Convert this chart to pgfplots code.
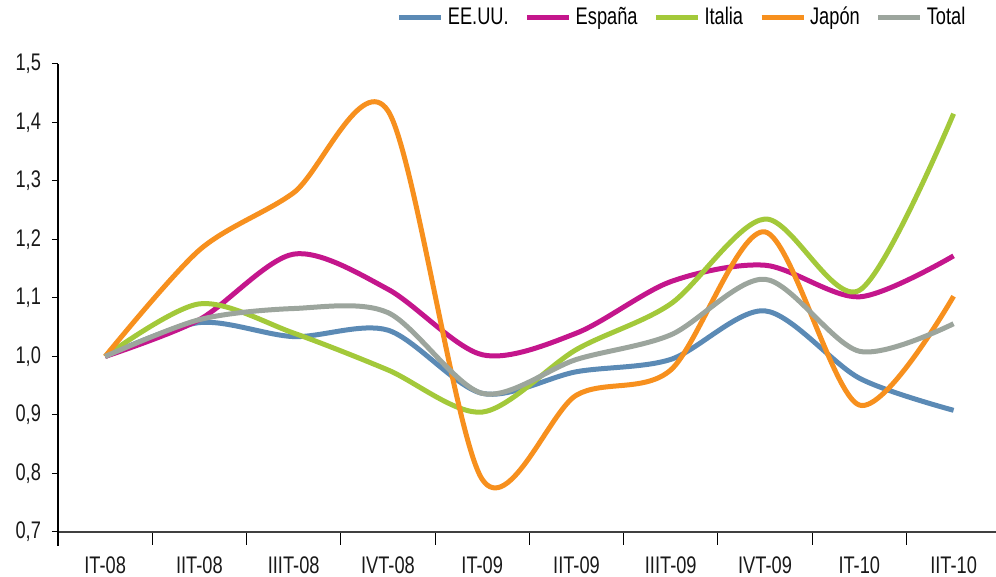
\documentclass[border=0pt]{standalone}
\usepackage{fontspec}
\setmainfont{Liberation Sans}[FakeStretch=0.76]
\usepackage{pgfplots}
\pgfplotsset{compat=1.18}
\definecolor{cblue}{HTML}{5B8AB5}
\definecolor{cmag}{HTML}{C4168C}
\definecolor{cgreen}{HTML}{A3C93A}
\definecolor{corange}{HTML}{F7901E}
\definecolor{cgray}{HTML}{9CA59D}
\begin{document}
\begin{tikzpicture}
\path[use as bounding box] (-29pt,-22.5pt) rectangle (469pt,266pt);
\begin{axis}[
  scale only axis, width=469pt, height=234pt,
  xmin=-0.5, xmax=9.45, ymin=0.7, ymax=1.5,
  axis lines=left, axis line style={line width=0.6pt,-},
  x axis line style={draw=black!75},
  xtick={0,...,9},
  xticklabels={IT-08,IIT-08,IIIT-08,IVT-08,IT-09,IIT-09,IIIT-09,IVT-09,IT-10,IIT-10},
  minor xtick={0.5,1.5,...,8.5},
  ytick={0.7,0.8,...,1.5},
  tick align=outside,
  x tick style={draw=none},
  minor x tick style={draw=black, line width=0.5pt},
  minor tick length=6.5pt,
  y tick style={draw=black, line width=0.5pt},
  major tick length=3pt,
  xticklabel style={yshift=-6pt},
  yticklabel style={xshift=-2pt, /pgf/number format/.cd, use comma, fixed, fixed zerofill, precision=1},
  /pgf/number format/assume math mode=true,
  tick label style={font=\fontsize{12}{14}\selectfont, text=black!90},
  legend columns=5,
  legend style={at={(0.972,1)}, anchor=south east, yshift=16pt, draw=none, inner sep=0pt,
    font=\fontsize{12}{14}\selectfont,
    /tikz/every even column/.append style={column sep=6pt}},
  legend image code/.code={\draw[#1,line width=2.5pt] (0pt,0pt) -- (21pt,0pt);},
  every axis plot/.append style={line width=2.5pt, smooth, tension=0.5},
  clip=false,
]
\addplot[cblue] coordinates {(0,1.0) (1,1.058) (2,1.034) (3,1.045) (4,0.937) (5,0.974) (6,0.995) (7,1.078) (8,0.963) (9,0.908)};
\addplot[cmag] coordinates {(0,1.0) (1,1.063) (2,1.175) (3,1.115) (4,1.003) (5,1.040) (6,1.128) (7,1.156) (8,1.102) (9,1.172)};
\addplot[cgreen] coordinates {(0,1.0) (1,1.090) (2,1.040) (3,0.977) (4,0.905) (5,1.012) (6,1.090) (7,1.235) (8,1.113) (9,1.415)};
\addplot[corange] coordinates {(0,1.0) (1,1.182) (2,1.280) (3,1.420) (4,0.790) (5,0.934) (6,0.977) (7,1.213) (8,0.917) (9,1.103)};
\addplot[cgray] coordinates {(0,1.0) (1,1.063) (2,1.082) (3,1.075) (4,0.937) (5,0.995) (6,1.037) (7,1.132) (8,1.009) (9,1.056)};
\legend{EE.UU.,España,Italia,Japón,Total}
\draw[line width=0.6pt] (rel axis cs:0,0) -- ([yshift=-7pt]rel axis cs:0,0);
\end{axis}
\end{tikzpicture}
\end{document}
